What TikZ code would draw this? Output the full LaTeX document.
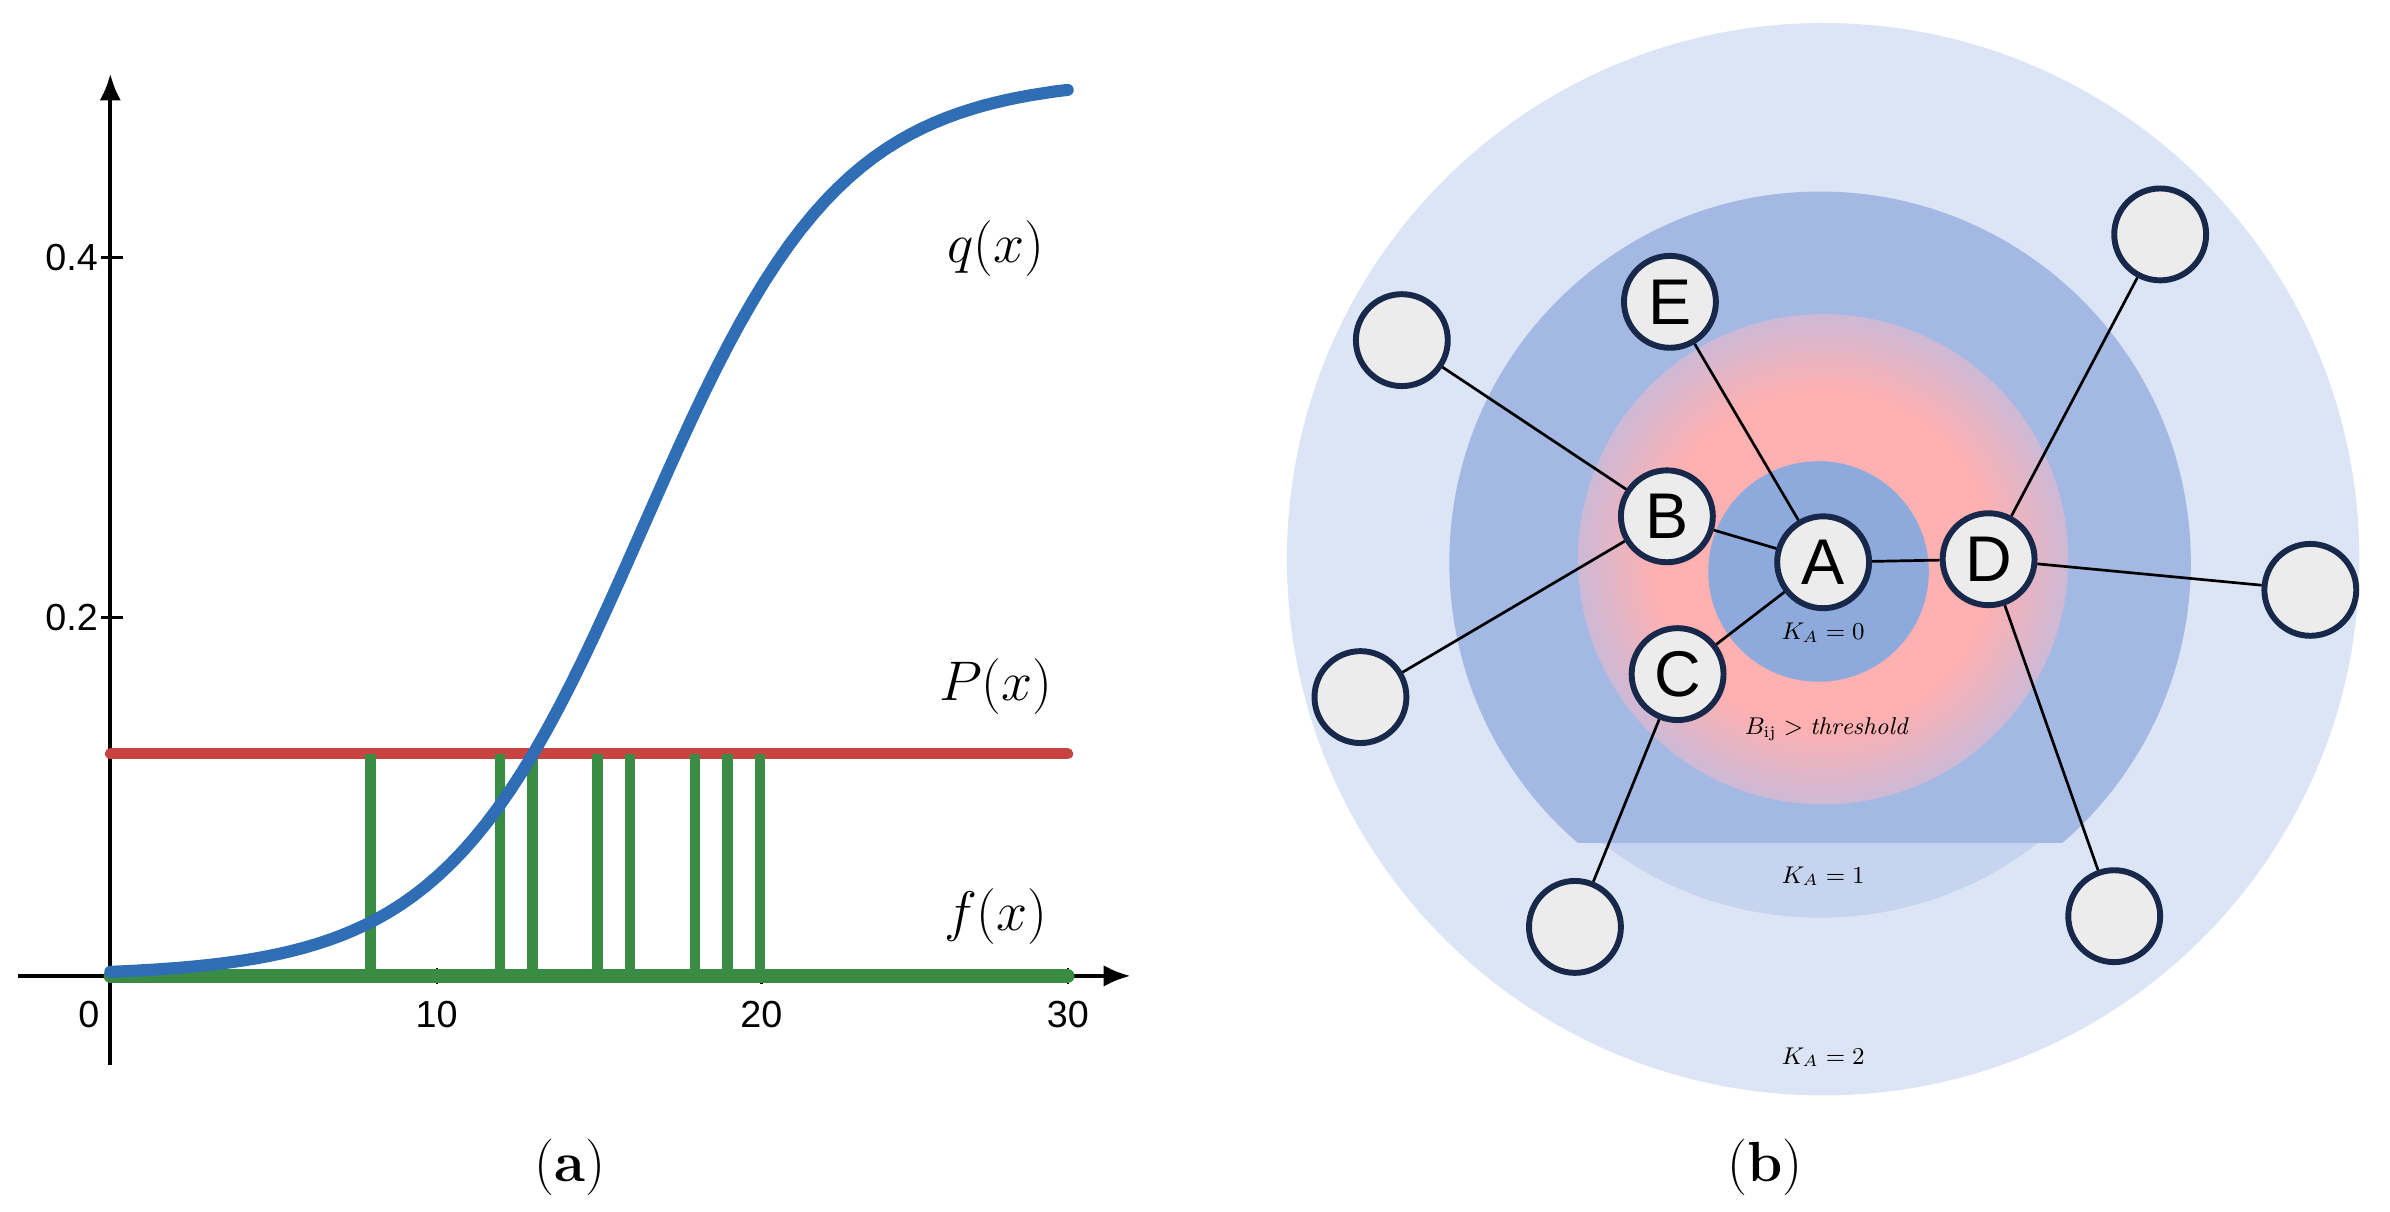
\documentclass[tikz,border=0pt]{standalone}
\usepackage{fontspec}
\newfontfamily\sansf{Liberation Sans}
\usetikzlibrary{arrows.meta}
\definecolor{qblue}{HTML}{2F6EB5}
\definecolor{pred}{HTML}{C84440}
\definecolor{fgreen}{HTML}{3A8C45}
\definecolor{outerb}{HTML}{DCE5F5}
\definecolor{bandb}{HTML}{C7D4EF}
\definecolor{midb}{HTML}{A3B8E3}
\definecolor{innerb}{HTML}{8EAADC}
\definecolor{pinkc}{HTML}{FFB0B0}
\definecolor{pinke}{HTML}{CDB9D6}
\definecolor{nodefill}{HTML}{ECECEC}
\definecolor{nodeline}{HTML}{17284A}
\pgfdeclareradialshading{pinkglow}{\pgfpoint{0bp}{0bp}}{color(0bp)=(pinkc); color(17bp)=(pinkc); color(25bp)=(pinke); color(50bp)=(pinke)}
\begin{document}
\begin{tikzpicture}[x=0.02cm,y=-0.02cm,
  nd/.style={circle,draw=nodeline,line width=2.2pt,fill=nodefill,minimum size=1.2cm,inner sep=0pt,font=\sansf\fontsize{24}{28}\selectfont},
  ed/.style={line width=1pt,black},
  tick/.style={font=\sansf\fontsize{14}{16}\selectfont},
  lab/.style={font=\fontsize{21}{24}\selectfont},
  small/.style={font=\fontsize{9}{10}\selectfont}]
\useasboundingbox (0,0) rectangle (1560,790.5);
% ---------- (a) ----------
\draw[line width=1.6pt,-{Latex[length=10pt,width=8pt]}] (72,695) -- (72,48);
\draw[line width=1.6pt,-{Latex[length=10pt,width=8pt]}] (12,637) -- (738,637);
\foreach \yy/\t in {168/0.4,403/0.2}{
  \draw[line width=1pt] (66,\yy) -- (80,\yy);
  \node[tick,anchor=east] at (70,\yy) {\t};}
\foreach \xx/\t in {285/10,497/20,697/30}{
  \draw[line width=0.8pt] (\xx,632) -- (\xx,642);
  \node[tick] at (\xx,662) {\t};}
\node[tick] at (58,662) {0};
\draw[pred,line width=4pt,line cap=round] (72,492) -- (697,492);
\foreach \v in {8,12,13,15,16,18,19,20}
  \draw[fgreen,line width=4pt] ({72+\v*21.2},637) -- ({72+\v*21.2},492);
\draw[fgreen,line width=5pt,line cap=round] (72,637) -- (697,637);
\draw[qblue,line width=4.5pt,line cap=round,domain=0:30,samples=80]
  plot ({72+\x*20.83},{637-1172.5*0.5/(1+exp(-(\x-16.7)/3.1))});
\node[lab] at (650,162) {$q(x)$};
\node[lab] at (650,448) {$P(x)$};
\node[lab] at (650,598) {$f(x)$};
\node[font=\fontsize{21}{24}\selectfont] at (372,762) {(\textbf{a})};
% ---------- (b) ----------
\fill[outerb] (1190,365) circle (350);
\fill[bandb] (1188,367) circle (232);
\begin{scope}
\clip (900,100) rectangle (1480,550);
\fill[midb] (1188,367) circle (242);
\end{scope}
\shade[shading=pinkglow] (1190,365) circle (160);
\fill[innerb] (1187,373) circle (72);
\node[nd] (A) at (1190,367) {A};
\node[nd] (B) at (1088,337) {B};
\node[nd] (C) at (1095,440) {C};
\node[nd] (D) at (1298,365) {D};
\node[nd] (E) at (1090,197) {E};
\node[nd] (o1) at (915,222) {};
\node[nd] (o2) at (888,455) {};
\node[nd] (o3) at (1028,605) {};
\node[nd] (o4) at (1410,153) {};
\node[nd] (o5) at (1508,385) {};
\node[nd] (o6) at (1380,598) {};
\foreach \a/\b in {A/E,A/B,A/C,A/D,B/o1,B/o2,C/o3,D/o4,D/o5,D/o6}
  \draw[ed] (\a) -- (\b);
\node[small] at (1190,413) {$K_A=0$};
\node[small] at (1192,476) {$B_{\mathrm{ij}}>\mathit{threshold}$};
\node[small] at (1190,572) {$K_A=1$};
\node[small] at (1190,690) {$K_A=2$};
\node[font=\fontsize{21}{24}\selectfont] at (1152,762) {(\textbf{b})};
\end{tikzpicture}
\end{document}
